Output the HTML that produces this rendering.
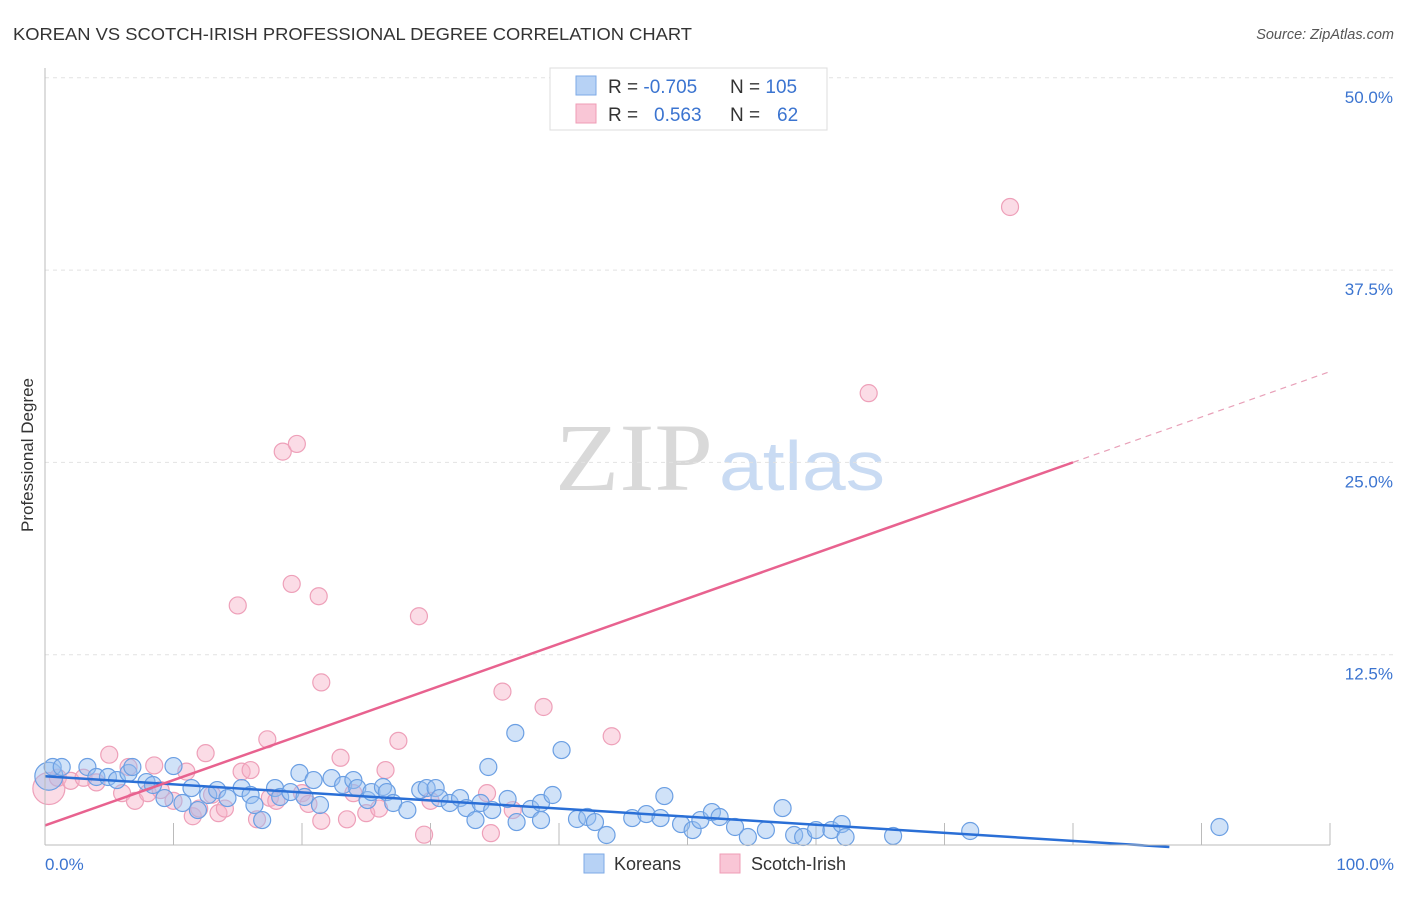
<!DOCTYPE html>
<html><head><meta charset="utf-8"><style>
body{margin:0;background:#fff;font-family:"Liberation Sans",sans-serif}
svg text{font-family:"Liberation Sans",sans-serif}
</style></head><body>
<svg id="chart" width="1406" height="892">
<text x="13" y="40" font-size="17.5" fill="#333" textLength="679" lengthAdjust="spacingAndGlyphs">KOREAN VS SCOTCH-IRISH PROFESSIONAL DEGREE CORRELATION CHART</text>
<text x="1394" y="39" font-size="14.5" fill="#555" font-style="italic" text-anchor="end">Source: ZipAtlas.com</text>
<text x="555" y="490" font-size="96" fill="#d9d9d9" textLength="158" lengthAdjust="spacingAndGlyphs" style="font-family:'Liberation Serif',serif">ZIP</text>
<text x="719" y="490" font-size="70" fill="#c9dbf3" textLength="166" lengthAdjust="spacingAndGlyphs">atlas</text>
<text transform="translate(33,455) rotate(-90)" font-size="17" fill="#333" text-anchor="middle">Professional Degree</text>
<g id="grid"></g><g id="marks"></g><g id="trends"></g>
<line x1="45" y1="68" x2="45" y2="845" stroke="#bbb"/>
<line x1="45" y1="845" x2="1330" y2="845" stroke="#bbb"/>
<text x="45" y="870" font-size="17" fill="#3b74d0">0.0%</text>
<text x="1394" y="870" font-size="17" fill="#3b74d0" text-anchor="end">100.0%</text>
<g>
<rect x="550" y="68" width="277" height="62" fill="#fff" stroke="#ddd"/>
<rect x="576" y="76" width="20" height="19" fill="#b7d2f5" stroke="#7eaae6"/>
<rect x="576" y="104" width="20" height="19" fill="#f9c6d6" stroke="#ef9cb6"/>
<text x="608" y="93" font-size="19" fill="#333">R = <tspan fill="#3b74d0">-0.705</tspan><tspan x="730">N = </tspan><tspan fill="#3b74d0">105</tspan></text>
<text x="608" y="121" font-size="19" fill="#333">R = <tspan x="654" fill="#3b74d0">0.563</tspan><tspan x="730">N = </tspan><tspan x="777" fill="#3b74d0">62</tspan></text>
</g>
<rect x="584" y="854" width="20" height="19" fill="#b7d2f5" stroke="#7eaae6"/>
<text x="614" y="870" font-size="18" fill="#333">Koreans</text>
<rect x="720" y="854" width="20" height="19" fill="#f9c6d6" stroke="#ef9cb6"/>
<text x="751" y="870" font-size="18" fill="#333">Scotch-Irish</text>
</svg>
<script>
const yTicks=[12.5,25,37.5,50];
const yTickLabels=["12.5%","25.0%","37.5%","50.0%"];
const xTicks=[10,20,30,40,50,60,70,80,90,100];
const koreanX=[0.3,0.6,1.3,3.3,4.0,4.9,5.6,6.5,6.8,7.9,8.4,9.3,10.0,10.7,11.4,11.9,12.7,13.4,14.2,15.3,16.0,16.3,16.9,17.9,18.3,19.1,19.8,20.2,20.9,21.4,22.3,23.2,24.0,24.3,25.1,25.4,26.3,26.6,27.1,28.2,29.2,29.7,30.4,30.7,31.5,32.3,32.8,33.5,33.9,34.5,34.8,36.0,36.6,36.7,37.8,38.6,38.6,39.5,40.2,41.4,42.2,42.8,43.7,45.7,46.8,47.9,48.2,49.5,50.4,51.0,51.9,52.5,53.7,54.7,56.1,57.4,58.3,59.0,60.0,61.2,62.0,62.3,66.0,72.0,91.4];
const koreanY=[4.6,5.2,5.2,5.2,4.55,4.55,4.35,4.81,5.2,4.22,4.03,3.18,5.26,2.86,3.83,2.4,3.38,3.7,3.18,3.83,3.38,2.73,1.75,3.83,3.25,3.57,4.81,3.25,4.35,2.73,4.48,4.03,4.35,3.83,3.05,3.57,3.9,3.57,2.86,2.4,3.7,3.83,3.83,3.18,2.86,3.18,2.53,1.75,2.86,5.2,2.4,3.12,7.41,1.62,2.47,2.86,1.75,3.38,6.3,1.82,1.95,1.62,0.78,1.88,2.14,1.88,3.31,1.49,1.1,1.75,2.27,1.95,1.3,0.65,1.1,2.53,0.78,0.65,1.1,1.1,1.49,0.65,0.72,1.04,1.3];
const scotchX=[0.3,1,2,3,4,5,6,6.5,7,8,8.5,9,10,11,11.5,12,12.5,13,13.5,14,15,15.3,16,16.5,17.3,17.5,18,18.5,19.2,19.6,20,20.5,21.3,21.5,21.5,23,23.5,24,25,26,26.5,27.5,29.1,29.5,30,34.4,34.7,35.6,36.4,38.8,44.1,64.1,75.1];
const scotchY=[3.8,4.5,4.3,4.5,4.2,6,3.5,5.2,3,3.5,5.3,3.7,3,4.9,2,2.5,6.1,3.4,2.2,2.5,15.7,4.9,5,1.8,7,3.2,3,25.7,17.1,26.2,3.5,2.8,16.3,1.7,10.7,5.8,1.8,3.5,2.2,2.5,5,6.9,15,0.8,3,3.5,0.9,10.1,2.4,9.1,7.2,29.5,41.6];
const koreanTrend=[[0,4.6],[87.5,0]];
const scotchTrend=[[0,1.4],[80,25]];
const scotchTrendExt=[[80,25],[100,30.9]];
const X=v=>45+v*12.85, Y=v=>847-v*15.385;
const NS='http://www.w3.org/2000/svg';
function mk(t,a,p){const e=document.createElementNS(NS,t);for(const k in a)e.setAttribute(k,a[k]);p.appendChild(e);return e;}
const grid=document.getElementById('grid'),marks=document.getElementById('marks'),tr=document.getElementById('trends'),svg=document.getElementById('chart');
yTicks.forEach((v,i)=>{
 const l=mk('line',{x1:45,x2:1394,y1:Y(v),y2:Y(v),stroke:'#e2e2e2','stroke-dasharray':'4,4'},grid);
 
 
 const t=mk('text',{x:1393,y:Y(v)+25,'font-size':17,fill:'#3b74d0','text-anchor':'end'},svg);
 t.textContent=yTickLabels[i];
 
 
});
xTicks.forEach(v=>{
 const l=mk('line',{x1:X(v),x2:X(v),y1:823,y2:845,stroke:'#bbb'},grid);
 
 
});
scotchX.forEach((x,i)=>{
 const c=mk('circle',{cx:X(x),cy:Y(scotchY[i]),r:i==0?16:8.5,fill:'rgba(246,178,200,0.45)',stroke:'#eea0b9','stroke-width':1.2},marks);
 
 
});
koreanX.forEach((x,i)=>{
 const c=mk('circle',{cx:X(x),cy:Y(koreanY[i]),r:i==0?14:8.5,fill:'rgba(150,190,240,0.45)',stroke:'#6b9fe3','stroke-width':1.2},marks);
 
 
});
let l=mk('line',{x1:X(koreanTrend[0][0]),y1:Y(koreanTrend[0][1]),x2:X(koreanTrend[1][0]),y2:Y(koreanTrend[1][1]),stroke:'#2a6fd6','stroke-width':2.5},tr);


l=mk('line',{x1:X(scotchTrend[0][0]),y1:Y(scotchTrend[0][1]),x2:X(scotchTrend[1][0]),y2:Y(scotchTrend[1][1]),stroke:'#e8628f','stroke-width':2.5},tr);


l=mk('line',{x1:X(scotchTrendExt[0][0]),y1:Y(scotchTrendExt[0][1]),x2:X(scotchTrendExt[1][0]),y2:Y(scotchTrendExt[1][1]),stroke:'#e8a0b8','stroke-width':1.2,'stroke-dasharray':'6,5'},tr);


</script>
</body></html>
